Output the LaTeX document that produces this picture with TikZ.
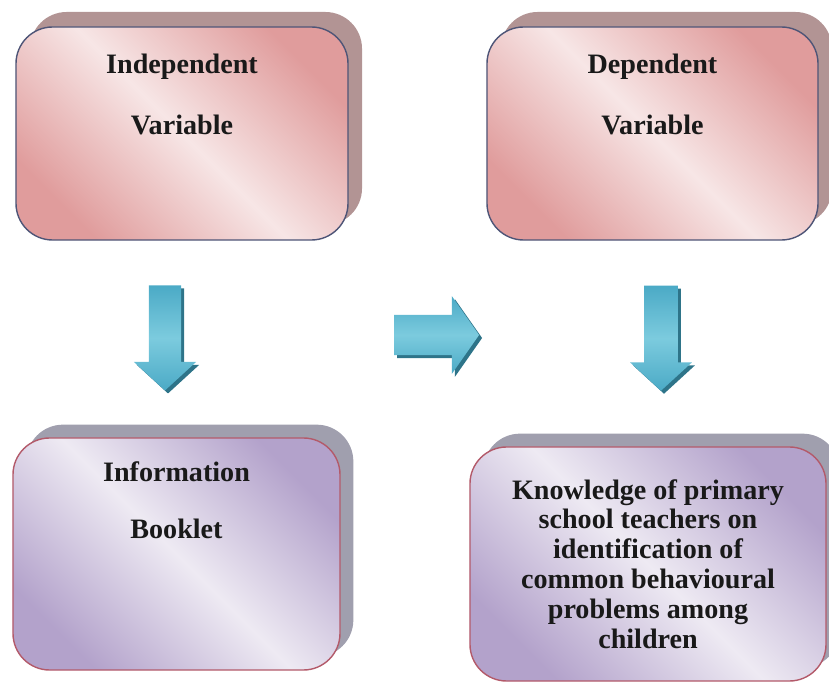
\documentclass[tikz,border=0pt]{standalone}
\usepackage{fontspec}
\setmainfont{Liberation Serif}
\usetikzlibrary{positioning,shadows,shapes.arrows}

\definecolor{pinkdark}{HTML}{E09C9C}
\definecolor{pinklight}{HTML}{F7E6E6}
\definecolor{pinkshadow}{HTML}{B29494}
\definecolor{pinkborder}{HTML}{4E5577}
\definecolor{lilacdark}{HTML}{B3A2CB}
\definecolor{lilaclight}{HTML}{EEEAF3}
\definecolor{lilacshadow}{HTML}{A09FAE}
\definecolor{lilacborder}{HTML}{B35A6A}
\definecolor{arrowlight}{HTML}{7CCBDE}
\definecolor{arrowmid}{HTML}{4BAAC6}
\definecolor{arrowshadow}{HTML}{2E7489}

\begin{document}
\begin{tikzpicture}[x=0.03cm,y=-0.03cm]
    \tikzstyle{box}=[rectangle,rounded corners=1.1cm,line width=1.2pt]
    \tikzstyle{varbox}=[box,draw=pinkborder,top color=pinkdark,bottom color=pinkdark,middle color=pinklight,shading angle=-45,
      general shadow={fill=pinkshadow,shadow xshift=0.42cm,shadow yshift=0.45cm}]
    \tikzstyle{resbox}=[box,draw=lilacborder,top color=lilacdark,bottom color=lilacdark,middle color=lilaclight,shading angle=-45,
      general shadow={fill=lilacshadow,shadow xshift=0.4cm,shadow yshift=0.4cm}]
    \tikzstyle{boxtext}=[inner sep=0pt,align=center,text=black!90,font=\fontsize{24}{27}\selectfont\bfseries]
    \tikzstyle{blockarrow}=[single arrow,inner xsep=0pt,top color=arrowmid,bottom color=arrowmid,middle color=arrowlight,
      general shadow={fill=arrowshadow,shadow xshift=0.09cm,shadow yshift=-0.09cm}]
    \useasboundingbox (0,0) rectangle (829,684);

    \node[varbox,minimum width=9.96cm,minimum height=6.39cm] (indep) at (182,133.5) {};
    \node[varbox,minimum width=9.93cm,minimum height=6.39cm] (dep) at (652.5,133.5) {};
    \node[resbox,minimum width=9.81cm,minimum height=6.96cm] (booklet) at (176.5,554) {};
    \node[resbox,minimum width=10.68cm,minimum height=7.02cm] (know) at (648,564) {};

    \node[boxtext,below=23.5pt of indep.north] (indeptext) {Independent\\[25pt]Variable};
    \node[boxtext,below=23.5pt of dep.north] (deptext) {Dependent\\[25pt]Variable};
    \node[boxtext,below=21pt of booklet.north] (booklettext) {Information\\[21.5pt]Booklet};
    \node[boxtext,font=\fontsize{24}{25.5}\selectfont\bfseries] (knowtext) at (know) {Knowledge of primary\\school teachers on\\identification of\\common behavioural\\problems among\\children};

    % block arrows
    \node[blockarrow,rotate=-90,minimum height=3.15cm,inner ysep=0.48cm,single arrow head extend=0.45cm,single arrow tip angle=95] (arrowleft) at (165,330.5) {};
    \node[blockarrow,minimum height=2.55cm,inner ysep=0.6cm,single arrow head extend=0.56cm,single arrow tip angle=110] (arrowmid) at (429.5,335) {};
    \node[blockarrow,rotate=-90,minimum height=3.15cm,inner ysep=0.5cm,single arrow head extend=0.42cm,single arrow tip angle=95] (arrowright) at (661,330.5) {};
\end{tikzpicture}
\end{document}
